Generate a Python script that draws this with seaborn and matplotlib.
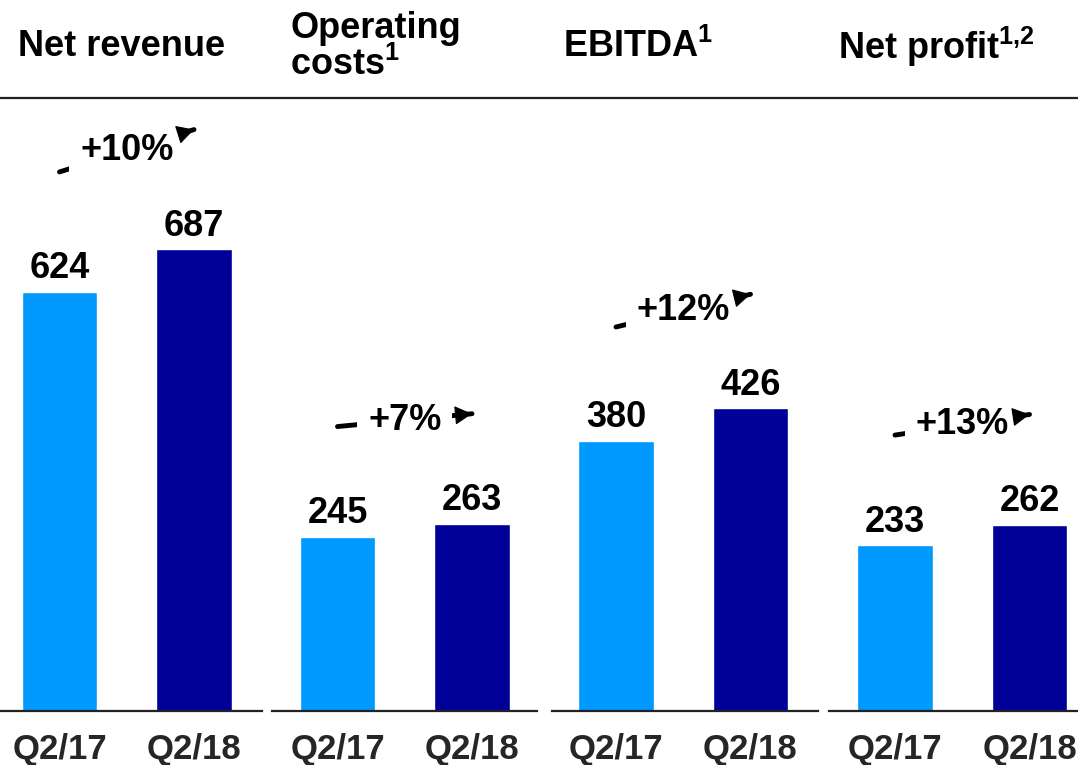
import matplotlib
matplotlib.use("Agg")
import matplotlib.pyplot as plt
from matplotlib.lines import Line2D
import seaborn as sns
import pandas as pd

# ---- data ----
metrics = ["Net revenue", "Operating\ncosts$^{1}$", "EBITDA$^{1}$", "Net profit$^{1{,}2}$"]
periods = ["Q2/17", "Q2/18"]
values_q217 = [624, 245, 380, 233]
values_q218 = [687, 263, 426, 262]
growth_labels = ["+10%", "+7%", "+12%", "+13%"]

colors = {"Q2/17": "#0099FF", "Q2/18": "#000099"}

sns.set_theme(style="white")
plt.rcParams["font.family"] = ["Liberation Sans", "DejaVu Sans"]
plt.rcParams["mathtext.fontset"] = "custom"
plt.rcParams["mathtext.rm"] = "Liberation Sans:bold"
plt.rcParams["mathtext.it"] = "Liberation Sans:bold"
plt.rcParams["mathtext.bf"] = "Liberation Sans:bold"

W, H = 1078, 765
fig = plt.figure(figsize=(W / 100, H / 100), dpi=100)

# panel layout in pixels: (left, right, centre of first bar)
panels_px = [(0, 262, 59.5), (272, 537, 337.5), (552, 818, 616), (829, 1078, 895)]
unit_px = 134.5
base_px = 711
top_px = 98
ymax = [912, 862, 862, 862]
arrow_off = [178, 155, 160, 155]
header_pos = [(18, 47), (290, 47), (563, 47), (838, 47)]

for i, (l, r, c0) in enumerate(panels_px):
    ax = fig.add_axes([l / W, (H - base_px) / H, (r - l) / W, (base_px - top_px) / H])
    df = pd.DataFrame({"period": periods, "value": [values_q217[i], values_q218[i]]})
    sns.barplot(data=df, x="period", y="value", hue="period", palette=colors,
                ax=ax, width=0.56, legend=False, saturation=1)
    ax.set_xlim((l - c0) / unit_px, (r - c0) / unit_px)
    ax.set_ylim(0, ymax[i])
    for cont in ax.containers:
        ax.bar_label(cont, padding=4, fontsize=26, fontweight="bold", color="black")
    sns.despine(ax=ax, left=True, top=True, right=True)
    ax.spines["bottom"].set_color("#222222")
    ax.spines["bottom"].set_linewidth(1.6)
    ax.set_yticks([])
    ax.set_xlabel("")
    ax.set_ylabel("")
    ax.tick_params(axis="x", length=0, pad=16, labelsize=25)
    for t in ax.get_xticklabels():
        t.set_fontweight("bold")

    v1, v2 = values_q217[i], values_q218[i]
    off = arrow_off[i]
    start = (0.0, v1 + off)
    tip = (1.0, v2 + off)
    # shaft (mostly hidden behind the label)
    ax.annotate("", xy=tip, xytext=start, annotation_clip=False,
                arrowprops=dict(arrowstyle="-", lw=3.5, color="black",
                                shrinkA=0, shrinkB=0), zorder=3)
    ax.text(0.5, (start[1] + tip[1]) / 2, growth_labels[i], ha="center", va="center",
            fontsize=26, fontweight="bold", color="black", zorder=4, clip_on=False,
            bbox=dict(boxstyle="square,pad=0.3", fc="white", ec="none"))
    # arrow head drawn on top
    t0 = 0.9
    near = (start[0] + t0 * (tip[0] - start[0]), start[1] + t0 * (tip[1] - start[1]))
    ax.annotate("", xy=tip, xytext=near, annotation_clip=False,
                arrowprops=dict(arrowstyle="-|>,head_length=0.55,head_width=0.3",
                                mutation_scale=20, lw=0.8, color="black",
                                shrinkA=0, shrinkB=0), zorder=5)

    hx, hy = header_pos[i]
    fig.text(hx / W, (H - hy) / H, metrics[i], ha="left", va="center", fontsize=26,
             fontweight="bold", color="black", linespacing=1.05)

fig.add_artist(Line2D([0, 1], [(H - 98) / H, (H - 98) / H], transform=fig.transFigure,
                      color="#222222", lw=1.6))

fig.savefig("out.png", dpi=100)
